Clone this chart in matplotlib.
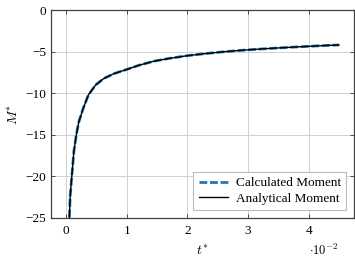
import matplotlib
matplotlib.use("Agg")
import matplotlib.pyplot as plt
from matplotlib.ticker import FuncFormatter

plt.rcParams['font.family'] = ['Liberation Serif', 'DejaVu Serif']
plt.rcParams['mathtext.fontset'] = 'cm'
plt.rcParams['axes.unicode_minus'] = True

# values
t_star = [0.00050, 0.00055, 0.0007, 0.0010, 0.0013, 0.0017, 0.0021, 0.0028,
          0.0037, 0.0049, 0.0062, 0.0079, 0.0100, 0.0120, 0.0145, 0.0170,
          0.0200, 0.0230, 0.0260, 0.0290, 0.0320, 0.0350, 0.0380, 0.0410,
          0.0430, 0.0450]
M_calc = [-26.2, -25.0, -22.3, -19.6, -17.0, -15.0, -13.5, -11.9,
          -10.2, -9.0, -8.25, -7.65, -7.15, -6.65, -6.15, -5.82,
          -5.49, -5.24, -5.02, -4.84, -4.69, -4.56, -4.44, -4.33,
          -4.26, -4.2]
M_analytical = list(M_calc)

y_ticks = [0, -5, -10, -15, -20, -25]
x_ticks = [0, 0.01, 0.02, 0.03, 0.04]

fig = plt.figure(figsize=(3.55, 2.57), dpi=100)
ax = fig.add_axes([0.1437, 0.152, 0.853, 0.809])

ax.plot(t_star, M_calc, '--', color='#1f77b4', lw=2.0, dashes=(2.8, 1.0),
        label="Calculated Moment")
ax.plot(t_star, M_analytical, '-', color='black', lw=1.0,
        label="Analytical Moment")

ax.set_xlim(-0.00247, 0.04745)
ax.set_ylim(-25, 0)
ax.set_xticks(x_ticks)
ax.set_yticks(y_ticks)
ax.xaxis.set_major_formatter(FuncFormatter(lambda v, p: f"{v * 100:.0f}"))
ax.yaxis.set_major_formatter(FuncFormatter(lambda v, p: f"{v:.0f}".replace("-", "\u2212")))
ax.tick_params(direction='in', length=3, width=0.6, labelsize=9.5,
               top=True, right=True, colors='#333333', labelcolor='black')
ax.tick_params(axis='x', pad=5)
ax.grid(color='#d0d0d0', lw=0.7)
ax.set_axisbelow(True)
for s in ax.spines.values():
    s.set_color('#404040')
    s.set_linewidth(0.9)

ax.set_xlabel(r"$t^{*}$", fontsize=10, labelpad=5)
ax.set_ylabel(r"$M^{*}$", fontsize=10, labelpad=3)
ax.text(0.95, -0.155, r"$\cdot 10^{-2}$", transform=ax.transAxes,
        ha='right', va='center', fontsize=9)

leg = ax.legend(loc='lower right', fontsize=9.5, fancybox=False,
                edgecolor='#bbbbbb', framealpha=1.0, handlelength=2.2,
                borderpad=0.4, labelspacing=0.25, handletextpad=0.6,
                borderaxespad=0.6)
leg.get_frame().set_linewidth(0.8)

fig.savefig("out.png", dpi=100)
